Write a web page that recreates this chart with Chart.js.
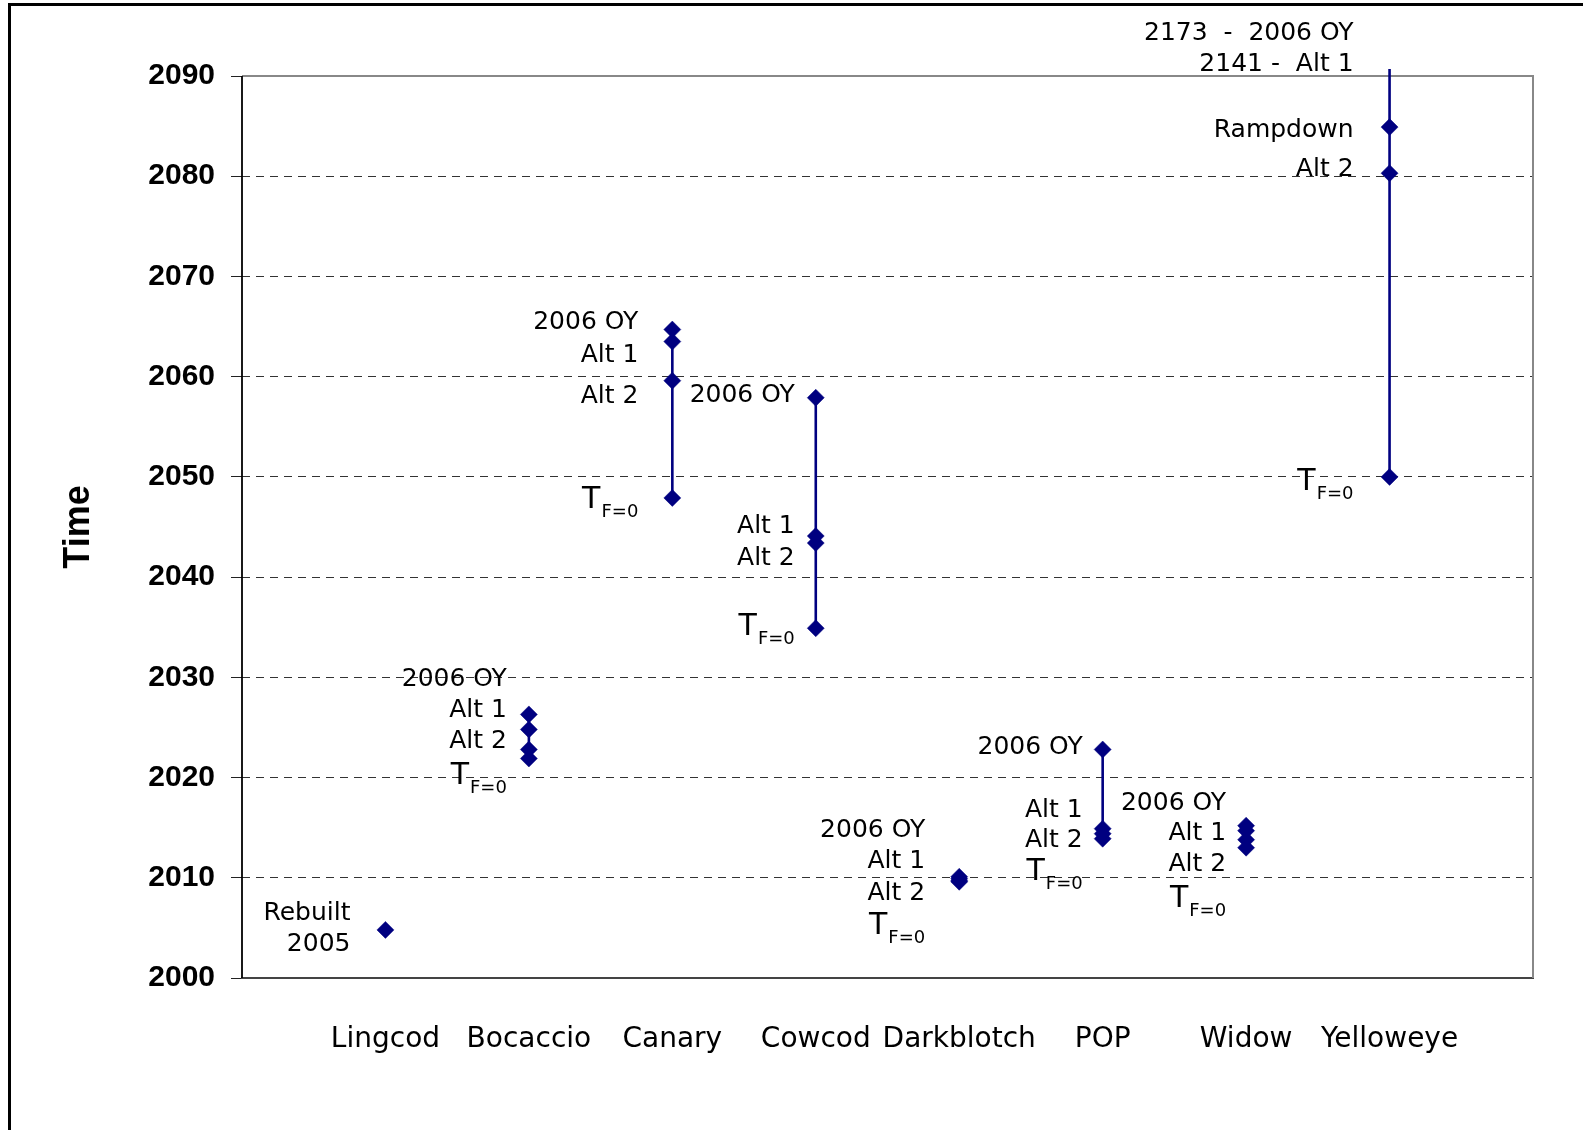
<!DOCTYPE html>
<html>
<head>
<meta charset="utf-8">
<title>Rebuilding time</title>
<script src="https://cdn.jsdelivr.net/npm/chart.js@4"></script>
<style>
body { margin: 0; background: #fff; }
#frame { position: absolute; left: 8px; top: 3px; width: 1700px; height: 1300px; border: 3px solid #000; }
#wrap { position: absolute; left: 0; top: 0; width: 1583px; height: 1130px; }
</style>
</head>
<body>
<div id="frame"></div>
<div id="wrap"><canvas id="chart" width="1583" height="1130"></canvas></div>
<script>
// categories along the bottom
var categories = ["Lingcod", "Bocaccio", "Canary", "Cowcod", "Darkblotch", "POP", "Widow", "Yelloweye"];
var yTicks = [2000, 2010, 2020, 2030, 2040, 2050, 2060, 2070, 2080, 2090];

// rebuild years per species
var lingcod = [2004.8];
var bocaccio = [2026.3, 2024.8, 2022.8, 2021.9];
var canary = [2064.7, 2063.5, 2059.6, 2047.9];
var cowcod = [2057.9, 2044.1, 2043.4, 2034.9];
var darkblotch = [2010.1, 2009.9, 2009.7, 2009.6];
var pop = [2022.8, 2014.9, 2014.4, 2013.9];
var widow = [2015.2, 2014.7, 2013.8, 2013.0];
var yelloweye = [2173, 2141, 2084.9, 2080.3, 2050.0];

var series = [lingcod, bocaccio, canary, cowcod, darkblotch, pop, widow, yelloweye];

// text beside the markers: [text, year the text sits at]
var lingcodLabels = [["Rebuilt", 2006.7], ["2005", 2003.6]];
var bocaccioLabels = [["2006 OY", 2030.0], ["Alt 1", 2026.9], ["Alt 2", 2023.8], ["T", 2020.5]];
var canaryLabels = [["2006 OY", 2065.7], ["Alt 1", 2062.4], ["Alt 2", 2058.3], ["T", 2048.0]];
var cowcodLabels = [["2006 OY", 2058.4], ["Alt 1", 2045.3], ["Alt 2", 2042.1], ["T", 2035.3]];
var darkblotchLabels = [["2006 OY", 2015.0], ["Alt 1", 2011.9], ["Alt 2", 2008.7], ["T", 2005.5]];
var popLabels = [["2006 OY", 2023.2], ["Alt 1", 2017.0], ["Alt 2", 2014.0], ["T", 2010.9]];
var widowLabels = [["2006 OY", 2017.7], ["Alt 1", 2014.7], ["Alt 2", 2011.6], ["T", 2008.2]];
var yelloweyeLabels = [["2173  -  2006 OY", 2094.5], ["2141 -  Alt 1", 2091.4], ["Rampdown", 2084.8], ["Alt 2", 2080.9], ["T", 2049.8]];

var labelSets = [lingcodLabels, bocaccioLabels, canaryLabels, cowcodLabels, darkblotchLabels, popLabels, widowLabels, yelloweyeLabels];

// space between the right edge of the text and the marker (px)
var labelGap = [35, 22, 34, 21, 34, 20, 20, 36];

var navy = "#000080";

var datasets = [];
for (var i = 0; i < series.length; i++) {
	var pts = [];
	for (var j = 0; j < series[i].length; j++) {
		pts.push({ x: i + 1, y: series[i][j] });
	}
	datasets.push({
		label: categories[i],
		data: pts,
		showLine: true,
		borderColor: navy,
		borderWidth: 2.6,
		backgroundColor: navy,
		pointStyle: "rectRot",
		pointRadius: 8.5,
		pointBorderWidth: 0.5,
		pointBorderColor: navy,
		pointBackgroundColor: navy,
		clip: { left: 10, top: 7, right: 10, bottom: 10 }
	});
}

var plotFrame = {
	id: "plotFrame",
	beforeDatasetsDraw: function(chart) {
		var a = chart.chartArea;
		var ctx = chart.ctx;
		ctx.save();
		ctx.strokeStyle = "#888";
		ctx.lineWidth = 2;
		ctx.beginPath();
		ctx.moveTo(a.left, a.top);
		ctx.lineTo(a.right, a.top);
		ctx.lineTo(a.right, a.bottom);
		ctx.stroke();
		ctx.strokeStyle = "#000";
		ctx.lineWidth = 1.8;
		ctx.beginPath();
		ctx.moveTo(a.left, a.top);
		ctx.lineTo(a.left, a.bottom);
		ctx.stroke();
		ctx.restore();
	}
};

var markerText = {
	id: "markerText",
	afterDatasetsDraw: function(chart) {
		var ctx = chart.ctx;
		var xs = chart.scales.x;
		var ys = chart.scales.y;
		ctx.save();
		ctx.fillStyle = "#000";
		ctx.textAlign = "right";
		ctx.textBaseline = "alphabetic";
		for (var i = 0; i < labelSets.length; i++) {
			var right = xs.getPixelForValue(i + 1) - labelGap[i];
			for (var j = 0; j < labelSets[i].length; j++) {
				var txt = labelSets[i][j][0];
				var y = ys.getPixelForValue(labelSets[i][j][1]);
				if (txt === "T") {
					// T with subscript F=0
					ctx.font = "18px 'DejaVu Sans'";
					var subW = ctx.measureText("F=0").width;
					ctx.fillText("F=0", right, y + 13.5 + 6.5);
					ctx.font = "30px 'DejaVu Sans'";
					ctx.fillText("T", right - subW - 1, y + 11);
				} else {
					ctx.font = "25px 'DejaVu Sans'";
					ctx.fillText(txt, right, y + 9);
				}
			}
		}
		ctx.restore();
	}
};

var ctx = document.getElementById("chart");

var chart = new Chart(ctx, {
	type: "scatter",
	data: { datasets: datasets },
	plugins: [plotFrame, markerText],
	options: {
		responsive: false,
		animation: false,
		devicePixelRatio: 1,
		layout: { padding: { left: 0, top: 76, right: 50, bottom: 0 } },
		plugins: {
			legend: { display: false },
			tooltip: { enabled: false }
		},
		scales: {
			x: {
				type: "linear",
				position: "bottom",
				min: 0,
				max: 9,
				afterFit: function(s) { s.height = 152; },
				afterBuildTicks: function(s) {
					s.ticks = [];
					for (var k = 1; k <= categories.length; k++) s.ticks.push({ value: k });
				},
				ticks: {
					autoSkip: false,
					maxRotation: 0,
					padding: 45,
					color: "#000",
					font: { family: "'DejaVu Sans'", size: 28 },
					callback: function(v) { return categories[v - 1] || ""; }
				},
				grid: { display: false, drawTicks: false, tickLength: 0 },
				border: { display: true, color: "#444", width: 2 }
			},
			y: {
				type: "linear",
				position: "left",
				min: yTicks[0],
				max: yTicks[yTicks.length - 1],
				afterFit: function(s) { s.width = 242; },
				afterBuildTicks: function(s) {
					s.ticks = yTicks.map(function(v) { return { value: v }; });
				},
				ticks: {
					padding: 16,
					color: "#000",
					font: { family: "'Liberation Sans', Arial", size: 30, weight: "bold" },
					callback: function(v) { return String(v); }
				},
				grid: {
					color: function(c) {
						var v = c.tick ? c.tick.value : 0;
						return (v === 2000 || v === 2090) ? "rgba(0,0,0,0)" : "#333";
					},
					lineWidth: 1,
					tickLength: 11,
					tickColor: "#222",
					tickBorderDash: []
				},
				border: { display: false, dash: [8, 6] },
				title: {
					display: true,
					text: "Time",
					color: "#000",
					font: { family: "'Liberation Sans', Arial", size: 36, weight: "bold" },
					padding: { top: 57, bottom: 0 }
				}
			}
		}
	}
});
</script>
</body>
</html>
